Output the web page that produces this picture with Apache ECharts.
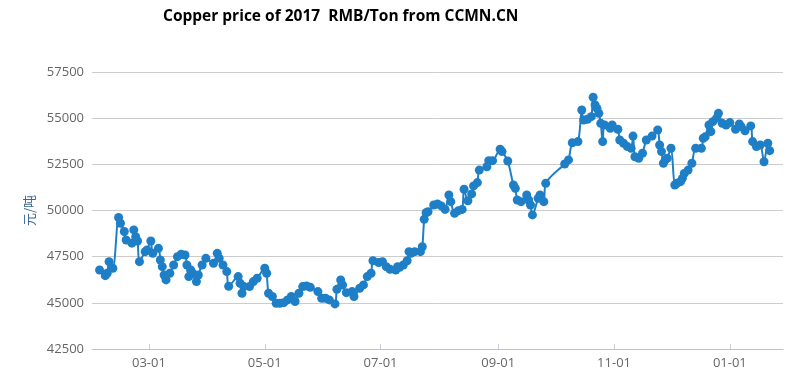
<!DOCTYPE html>
<html>
<head>
<meta charset="utf-8">
<script src="https://cdn.jsdelivr.net/npm/echarts@6/dist/echarts.min.js"></script>
<style>html,body{margin:0;padding:0;background:#fff}#c{width:812px;height:385px}</style>
</head>
<body>
<div id="c"></div>
<script>
const titleText = 'Copper price of 2017  RMB/Ton from CCMN.CN';
const yAxisName = '元/吨';
const dates = [
 '2017-02-03','2017-02-06','2017-02-07','2017-02-08','2017-02-10','2017-02-13','2017-02-14','2017-02-16','2017-02-17','2017-02-20',
 '2017-02-21','2017-02-22','2017-02-23','2017-02-24','2017-02-27','2017-02-28','2017-03-02','2017-03-03','2017-03-06','2017-03-07',
 '2017-03-08','2017-03-09','2017-03-10','2017-03-12','2017-03-14','2017-03-16','2017-03-18','2017-03-20','2017-03-21','2017-03-22',
 '2017-03-23','2017-03-24','2017-03-26','2017-03-27','2017-03-29','2017-03-31','2017-04-04','2017-04-06','2017-04-07','2017-04-09',
 '2017-04-11','2017-04-12','2017-04-17','2017-04-18','2017-04-19','2017-04-20','2017-04-23','2017-04-25','2017-04-27','2017-05-01',
 '2017-05-02','2017-05-03','2017-05-05','2017-05-07','2017-05-09','2017-05-11','2017-05-13','2017-05-15','2017-05-17','2017-05-19',
 '2017-05-21','2017-05-23','2017-05-25','2017-05-29','2017-05-31','2017-06-02','2017-06-04','2017-06-07','2017-06-08','2017-06-10',
 '2017-06-11','2017-06-13','2017-06-16','2017-06-17','2017-06-20','2017-06-22','2017-06-24','2017-06-26','2017-06-27','2017-06-30',
 '2017-07-02','2017-07-04','2017-07-06','2017-07-09','2017-07-10','2017-07-11','2017-07-13','2017-07-15','2017-07-16','2017-07-17',
 '2017-07-19','2017-07-22','2017-07-23','2017-07-24','2017-07-25','2017-07-26','2017-07-29','2017-07-31','2017-08-02','2017-08-04',
 '2017-08-06','2017-08-07','2017-08-09','2017-08-11','2017-08-13','2017-08-14','2017-08-16','2017-08-18','2017-08-19','2017-08-21',
 '2017-08-22','2017-08-26','2017-08-27','2017-08-29','2017-09-02','2017-09-03','2017-09-06','2017-09-09','2017-09-10','2017-09-11',
 '2017-09-13','2017-09-16','2017-09-17','2017-09-18','2017-09-19','2017-09-22','2017-09-23','2017-09-25','2017-09-26','2017-10-06',
 '2017-10-08','2017-10-10','2017-10-13','2017-10-15','2017-10-16','2017-10-18','2017-10-20','2017-10-21','2017-10-22','2017-10-23',
 '2017-10-24','2017-10-25','2017-10-26','2017-10-27','2017-10-30','2017-10-31','2017-11-03','2017-11-04','2017-11-06','2017-11-08',
 '2017-11-10','2017-11-11','2017-11-12','2017-11-14','2017-11-16','2017-11-18','2017-11-21','2017-11-24','2017-11-25','2017-11-26',
 '2017-11-27','2017-11-28','2017-11-29','2017-12-01','2017-12-03','2017-12-04','2017-12-06','2017-12-07','2017-12-08','2017-12-10',
 '2017-12-12','2017-12-14','2017-12-17','2017-12-18','2017-12-19','2017-12-21','2017-12-22','2017-12-23','2017-12-25','2017-12-26',
 '2017-12-28','2017-12-30','2018-01-01','2018-01-04','2018-01-06','2018-01-07','2018-01-09','2018-01-12','2018-01-13','2018-01-15',
 '2018-01-17','2018-01-19','2018-01-21','2018-01-22'
];
const prices = [
 46780,46470,46600,47230,46870,49620,49310,48860,48400,48230,
 48950,48580,48350,47230,47770,47860,48350,47680,47950,47320,
 46960,46510,46240,46600,47050,47500,47630,47590,47050,46420,
 46780,46600,46150,46510,47050,47410,47140,47680,47410,47050,
 46690,45900,46420,46060,45520,45880,45880,46150,46330,46870,
 46600,45520,45340,44980,44980,45010,45160,45340,45070,45520,
 45880,45910,45840,45610,45250,45250,45160,44940,45730,46240,
 45970,45550,45610,45340,45790,45970,46420,46600,47280,47180,
 47230,46960,46820,46780,46960,46920,47050,47280,47770,47680,
 47770,47770,48040,49520,49880,49930,50300,50350,50250,50060,
 50840,50480,49850,49990,50060,51150,50530,50900,51330,51510,
 52190,52370,52700,52700,53320,53190,52680,51380,51200,50570,
 50480,50840,50570,50300,49760,50660,50840,50480,51470,52520,
 52740,53670,53730,55440,54900,54940,55080,56130,55710,55530,
 55260,54720,53730,54630,54450,54630,54400,53820,53640,53460,
 53370,54030,52910,52830,53100,53820,54030,54360,53550,53190,
 52560,52740,52830,53370,51380,51470,51560,51740,52010,52190,
 52560,53370,53370,53910,53990,54630,54270,54810,55000,55260,
 54720,54630,54760,54400,54690,54540,54320,54580,53730,53460,
 53550,52640,53640,53240
];
const yTicks = [42500, 45000, 47500, 50000, 52500, 55000, 57500];
const xMin = '2017-01-30', xMax = '2018-01-29';

const chart = echarts.init(document.getElementById('c'));
chart.setOption({
  animation: false,
  backgroundColor: '#fff',
  title: {
    text: titleText, left: 158, top: 4,
    textStyle: { fontFamily: 'Open Sans', fontWeight: 'bold', fontSize: 15.5, color: '#000' }
  },
  grid: { left: 92, right: 29, top: 72, bottom: 36, containLabel: false },
  xAxis: {
    type: 'time', min: xMin, max: xMax, splitNumber: 5,
    axisLine: { lineStyle: { color: '#b7c3cf', width: 1 } },
    axisTick: { show: true, inside: true, length: 5, lineStyle: { color: '#c5ced8' } },
    axisLabel: { formatter: '{MM}-{dd}', color: '#666', fontFamily: 'Open Sans', fontSize: 13, margin: 8, hideOverlap: false },
    splitLine: { show: false }
  },
  yAxis: {
    type: 'value', min: yTicks[0], max: yTicks[yTicks.length - 1], interval: 2500,
    name: yAxisName, nameLocation: 'middle', nameGap: 56,
    nameTextStyle: { color: '#3a6795', fontFamily: 'Noto Sans CJK SC', fontSize: 13 },
    axisLine: { show: false }, axisTick: { show: false },
    axisLabel: { color: '#666', fontFamily: 'Open Sans', fontSize: 13, margin: 8, formatter: v => String(v) },
    splitLine: { lineStyle: { color: '#cccccc', width: 1 } }
  },
  series: [{
    type: 'line',
    data: dates.map((d, i) => [d, prices[i]]),
    smooth: 0.3,
    symbol: 'circle', symbolSize: 9, showAllSymbol: true,
    itemStyle: { color: '#1f7fc6' },
    lineStyle: { color: '#1f7fc6', width: 2 }
  }]
});
</script>
</body>
</html>
